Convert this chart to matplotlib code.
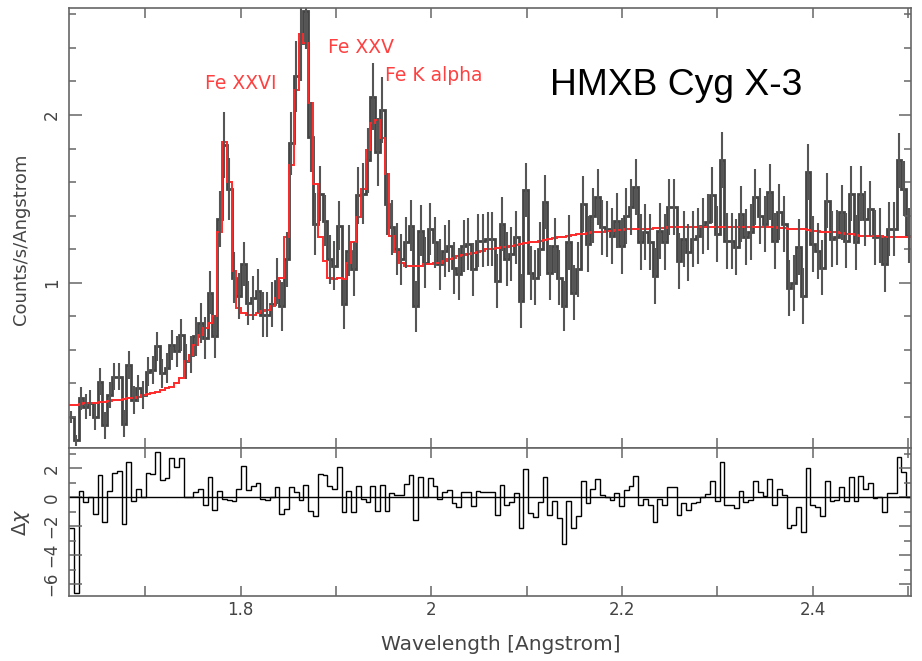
import numpy as np
import matplotlib
matplotlib.use("Agg")
import matplotlib.pyplot as plt
from matplotlib.ticker import MultipleLocator, FixedLocator

# wavelength range of the binned HEG spectrum (176 bins)
wave_lo = 1.62
wave_hi = 2.503

counts = [0.20, 0.06, 0.31, 0.26, 0.28, 0.20, 0.41, 0.15, 0.33, 0.44,
          0.44, 0.16, 0.51, 0.30, 0.37, 0.33, 0.47, 0.48, 0.62, 0.46,
          0.49, 0.63, 0.59, 0.69, 0.53, 0.57, 0.68, 0.76, 0.67, 0.94,
          0.68, 1.38, 1.82, 1.56, 1.03, 0.92, 1.11, 0.88, 0.91, 0.95,
          0.81, 0.81, 0.87, 1.01, 0.86, 1.14, 1.83, 2.23, 2.43, 2.62,
          1.87, 1.35, 1.53, 1.37, 1.14, 1.10, 1.34, 0.87, 1.19, 1.08,
          1.52, 1.53, 1.73, 2.11, 1.78, 2.03, 1.47, 1.33, 1.20, 1.14,
          1.24, 1.34, 0.86, 1.31, 1.12, 1.32, 1.24, 1.11, 1.19, 1.22,
          1.09, 1.05, 1.22, 1.23, 1.08, 1.25, 1.25, 1.26, 1.26, 1.01,
          1.35, 1.14, 1.17, 1.27, 0.89, 1.55, 1.06, 1.03, 1.20, 1.48,
          1.06, 1.22, 1.03, 0.86, 1.24, 0.94, 1.08, 1.47, 1.23, 1.40,
          1.51, 1.33, 1.32, 1.28, 1.37, 1.22, 1.40, 1.45, 1.57, 1.24,
          1.30, 1.24, 1.04, 1.31, 1.24, 1.45, 1.45, 1.13, 1.26, 1.18,
          1.26, 1.28, 1.34, 1.36, 1.52, 1.29, 1.73, 1.25, 1.25, 1.21,
          1.41, 1.27, 1.30, 1.51, 1.40, 1.35, 1.54, 1.25, 1.42, 1.35,
          0.97, 1.00, 1.21, 0.92, 1.66, 1.23, 1.19, 1.09, 1.49, 1.26,
          1.27, 1.42, 1.25, 1.53, 1.24, 1.53, 1.38, 1.44, 1.27, 1.28,
          1.11, 1.32, 1.32, 1.73, 1.56, 1.28]

errors = [0.035, 0.032, 0.07, 0.075, 0.078, 0.078, 0.08, 0.08, 0.08, 0.08,
          0.08, 0.08, 0.082, 0.082, 0.082, 0.083, 0.084, 0.085, 0.086, 0.087,
          0.088, 0.09, 0.092, 0.095, 0.105, 0.11, 0.115, 0.12, 0.125, 0.127,
          0.13, 0.165, 0.195, 0.185, 0.15, 0.135, 0.132, 0.13, 0.13, 0.132,
          0.132, 0.133, 0.135, 0.138, 0.147, 0.163, 0.19, 0.213, 0.228, 0.226,
          0.209, 0.183, 0.163, 0.154, 0.147, 0.146, 0.147, 0.146, 0.153, 0.161,
          0.171, 0.181, 0.194, 0.202, 0.203, 0.198, 0.186, 0.164, 0.157, 0.153,
          0.152, 0.152, 0.152, 0.152, 0.153, 0.153, 0.153, 0.153, 0.154, 0.155,
          0.155, 0.156, 0.156, 0.157, 0.157, 0.158, 0.158, 0.159, 0.159, 0.159,
          0.16, 0.16, 0.16, 0.16, 0.161, 0.161, 0.161, 0.162, 0.162, 0.162,
          0.163, 0.163, 0.163, 0.15, 0.164, 0.164, 0.165, 0.165, 0.165, 0.165,
          0.165, 0.165, 0.166, 0.166, 0.166, 0.166, 0.167, 0.167, 0.167, 0.167,
          0.167, 0.167, 0.167, 0.167, 0.167, 0.167, 0.167, 0.167, 0.167, 0.167,
          0.167, 0.167, 0.167, 0.167, 0.167, 0.167, 0.167, 0.167, 0.167, 0.167,
          0.167, 0.167, 0.167, 0.167, 0.167, 0.167, 0.167, 0.167, 0.167, 0.167,
          0.167, 0.167, 0.167, 0.167, 0.166, 0.166, 0.166, 0.165, 0.165, 0.165,
          0.165, 0.165, 0.165, 0.165, 0.164, 0.164, 0.164, 0.164, 0.164, 0.164,
          0.164, 0.163, 0.163, 0.163, 0.163, 0.163]

model = [0.27, 0.27, 0.275, 0.28, 0.28, 0.285, 0.29, 0.29, 0.295, 0.30,
         0.30, 0.305, 0.31, 0.315, 0.32, 0.33, 0.335, 0.34, 0.35, 0.36,
         0.37, 0.38, 0.40, 0.43, 0.53, 0.57, 0.63, 0.69, 0.73, 0.76,
         0.80, 1.30, 1.84, 1.60, 1.07, 0.85, 0.82, 0.81, 0.81, 0.82,
         0.83, 0.84, 0.86, 0.91, 1.03, 1.27, 1.70, 2.15, 2.48, 2.43,
         2.07, 1.59, 1.27, 1.13, 1.03, 1.02, 1.03, 1.02, 1.12, 1.24,
         1.39, 1.56, 1.79, 1.95, 1.97, 1.86, 1.65, 1.28, 1.18, 1.12,
         1.10, 1.10, 1.10, 1.10, 1.11, 1.11, 1.12, 1.12, 1.13, 1.14,
         1.15, 1.16, 1.165, 1.17, 1.175, 1.18, 1.19, 1.20, 1.20, 1.205,
         1.21, 1.215, 1.22, 1.225, 1.23, 1.235, 1.24, 1.245, 1.25, 1.255,
         1.26, 1.265, 1.27, 1.275, 1.28, 1.285, 1.29, 1.29, 1.295, 1.30,
         1.30, 1.305, 1.31, 1.31, 1.315, 1.315, 1.32, 1.32, 1.32, 1.32,
         1.32, 1.32, 1.325, 1.325, 1.325, 1.33, 1.33, 1.33, 1.33, 1.33,
         1.33, 1.33, 1.33, 1.33, 1.33, 1.33, 1.33, 1.33, 1.33, 1.33,
         1.33, 1.33, 1.33, 1.33, 1.33, 1.33, 1.33, 1.33, 1.325, 1.325,
         1.32, 1.32, 1.32, 1.32, 1.315, 1.31, 1.31, 1.30, 1.30, 1.30,
         1.30, 1.295, 1.29, 1.29, 1.285, 1.28, 1.28, 1.28, 1.28, 1.28,
         1.275, 1.27, 1.27, 1.27, 1.27, 1.27]

delchi = [-2.1, -6.6, 0.46, -0.3, 0.0, -1.15, 1.55, -1.7, 0.46, 1.7,
          1.8, -1.85, 2.47, -0.23, 0.58, 0.0, 1.66, 1.6, 3.16, 1.2,
          1.35, 2.75, 2.1, 2.75, 0.0, 0.0, 0.4, 0.55, -0.5, 1.4,
          -0.9, 0.46, -0.1, -0.2, -0.25, 0.55, 2.2, 0.5, 0.8, 1.0,
          -0.15, -0.2, 0.05, 0.7, -1.15, -0.8, 0.7, 0.35, -0.2, 0.85,
          -0.95, -1.3, 1.6, 1.55, 0.75, 0.55, 2.1, -1.0, 0.45, -1.0,
          0.75, -0.15, -0.3, 0.8, -0.95, 0.85, -0.95, 0.3, 0.15, 0.15,
          0.95, 1.55, -1.6, 1.4, 0.05, 1.35, 0.75, -0.1, 0.4, 0.5,
          -0.4, -0.7, 0.35, 0.35, -0.58, 0.46, 0.35, 0.4, 0.4, -1.2,
          0.85, -0.5, -0.3, 0.3, -2.1, 1.94, -1.1, -1.35, -0.3, 1.4,
          -1.2, -0.25, -1.45, -3.25, -0.25, -2.1, -1.3, 1.1, -0.4, 0.6,
          1.27, 0.15, 0.05, -0.2, 0.3, -0.6, 0.5, 0.75, 1.5, -0.5,
          -0.1, -0.5, -1.73, -0.1, -0.5, 0.74, 0.74, -1.2, -0.4, -0.9,
          -0.4, -0.3, 0.05, 0.2, 1.13, -0.25, 2.42, -0.5, -0.5, -0.75,
          0.45, -0.35, -0.2, 1.1, 0.4, 0.1, 1.27, -0.5, 0.57, 0.15,
          -2.1, -1.9, -0.65, -2.4, 2.05, -0.5, -0.7, -1.27, 1.13, -0.25,
          -0.2, 0.74, -0.25, 1.43, -0.25, 1.5, 0.6, 0.97, -0.07, 0.0,
          -1.0, 0.28, 0.28, 2.8, 1.78, 0.05]

line_labels = ["Fe XXVI", "Fe XXV", "Fe K alpha"]
line_label_pos = [(1.7625, 2.155), (1.8915, 2.37), (1.9513, 2.20)]

edges = np.linspace(wave_lo, wave_hi, len(counts) + 1)
centers = 0.5 * (edges[1:] + edges[:-1])

plt.rcParams["font.family"] = ["DejaVu Sans"]
txt = "#444444"
frame = "#666666"

fig = plt.figure(figsize=(9.22, 6.61), dpi=100)
ax = fig.add_axes([0.0748, 0.3222, 0.9132, 0.6657])
axr = fig.add_axes([0.0748, 0.0983, 0.9132, 0.2239], sharex=ax)

ax.errorbar(centers, counts, yerr=errors, fmt="none", ecolor="#555555",
            elinewidth=1.5, capsize=0)
ax.stairs(counts, edges, baseline=None, color="#444444", lw=2.0)
ax.stairs(model, edges, baseline=None, color="#ff2a2a", lw=1.4)

for lab, (x, y) in zip(line_labels, line_label_pos):
    ax.text(x, y, lab, color="#ff4040", fontsize=13.5, ha="left", va="baseline")
ax.text(2.1245, 2.12, "HMXB Cyg X-3", color="black", fontsize=26.8,
        family="Liberation Sans", ha="left", va="baseline")

ax.set_xlim(wave_lo, wave_hi)
ax.set_ylim(0.014, 2.638)
ax.yaxis.set_major_locator(FixedLocator([1, 2]))
ax.yaxis.set_minor_locator(MultipleLocator(0.2))
ax.set_ylabel("Counts/s/Angstrom", color=txt, fontsize=13)
ax.yaxis.set_label_coords(-0.046, 0.475)

axr.stairs(delchi, edges, baseline=None, color="black", lw=1.0)
axr.axhline(0, color="black", lw=1.0)
axr.set_ylim(-6.83, 3.41)
axr.yaxis.set_major_locator(MultipleLocator(2))
axr.yaxis.set_minor_locator(MultipleLocator(1))
axr.xaxis.set_major_locator(MultipleLocator(0.2))
axr.xaxis.set_minor_locator(MultipleLocator(0.1))
axr.xaxis.set_major_formatter(lambda v, p: f"{v:g}")
axr.set_ylabel(r"$\Delta\chi$", color=txt, fontsize=14)
axr.yaxis.set_label_coords(-0.044, 0.5)
axr.set_xlabel("Wavelength [Angstrom]", color=txt, fontsize=14.5)
axr.xaxis.set_label_coords(0.513, -0.265)

for a in (ax, axr):
    for s in a.spines.values():
        s.set_color(frame)
        s.set_linewidth(1.2)
    a.tick_params(which="both", direction="in", top=True, right=True,
                  color=frame, labelcolor=txt, labelsize=12)
    a.tick_params(which="major", length=9, width=1.1)
    a.tick_params(which="minor", length=5, width=1.1)
    a.tick_params(axis="x", which="both", length=7)
    a.tick_params(axis="y", labelrotation=90, pad=6)
    for t in a.get_yticklabels():
        t.set_va("center")
ax.tick_params(axis="x", labelbottom=False)

fig.savefig("out.png", dpi=100)
